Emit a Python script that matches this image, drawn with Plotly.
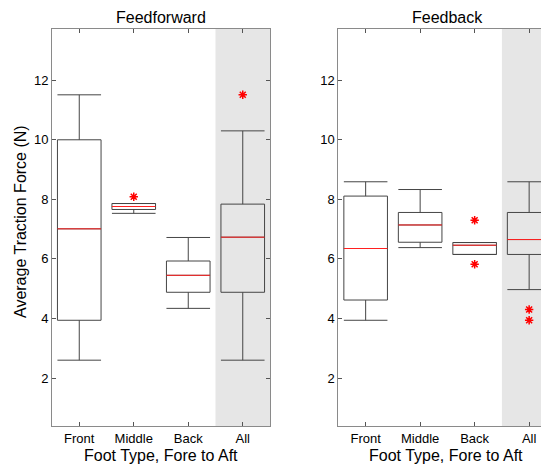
import plotly.graph_objects as go
from plotly.subplots import make_subplots

categories = ["Front", "Middle", "Back", "All"]
positions = [1, 2, 3, 4]

# Feedforward
ff_low = [2.60, 7.53, 4.34, 2.60]
ff_q1 = [3.94, 7.66, 4.88, 4.88]
ff_med = [7.01, 7.76, 5.45, 6.73]
ff_q3 = [10.00, 7.86, 5.93, 7.84]
ff_high = [11.51, 7.86, 6.72, 10.30]
ff_out_x = [2, 4]
ff_out_y = [8.09, 11.51]

# Feedback
fb_low = [3.94, 6.38, 6.15, 4.97]
fb_q1 = [4.62, 6.56, 6.15, 6.15]
fb_med = [6.35, 7.14, 6.46, 6.65]
fb_q3 = [8.11, 7.56, 6.55, 7.56]
fb_high = [8.59, 8.33, 6.55, 8.59]
fb_out_x = [3, 3, 4, 4]
fb_out_y = [7.30, 5.82, 4.30, 3.94]

titles = ["Feedforward", "Feedback"]
x_title = "Foot Type, Fore to Aft"
y_title = "Average Traction Force (N)"

BOX_W = 0.8
FONT = "Liberation Sans, Arial, sans-serif"
OFF = 8  # page body margin
W, H = 549 - OFF, 465 - OFF
ML = 52 - OFF
MT = 29 - OFF
MB = H - (426 - OFF)
MR = 0
plot_w = W - ML - MR
plot_h = H - MT - MB
px_per_unit = 218 / 4.0
left_dom = [0, 218 / plot_w]
right_start = (338.4 - 52) / plot_w
right_range_end = 0.5 + (549 - 338.4) / px_per_unit

fig = make_subplots(rows=1, cols=2)
fig.update_layout(
    xaxis=dict(domain=left_dom),
    xaxis2=dict(domain=[right_start, 1.0]),
)

panels = [
    (1, ff_low, ff_q1, ff_med, ff_q3, ff_high, ff_out_x, ff_out_y),
    (2, fb_low, fb_q1, fb_med, fb_q3, fb_high, fb_out_x, fb_out_y),
]

for col, lo, q1, med, q3, hi, ox, oy in panels:
    fig.add_trace(go.Box(
        x=positions, q1=q1, median=med, q3=q3, lowerfence=lo, upperfence=hi,
        width=BOX_W, whiskerwidth=1, fillcolor="rgba(0,0,0,0)",
        line=dict(color="#454545", width=1), boxpoints=False,
        hoverinfo="skip", showlegend=False,
    ), row=1, col=col)
    mx, my = [], []
    for p, m in zip(positions, med):
        mx += [p - BOX_W / 2, p + BOX_W / 2, None]
        my += [m, m, None]
    fig.add_trace(go.Scatter(
        x=mx, y=my, mode="lines", line=dict(color="#ff2020", width=1),
        showlegend=False, hoverinfo="skip",
    ), row=1, col=col)
    fig.add_trace(go.Scatter(
        x=ox, y=oy, mode="markers",
        marker=dict(symbol="asterisk-open", size=7, color="red",
                    line=dict(color="red", width=1.5)),
        showlegend=False, hoverinfo="skip",
    ), row=1, col=col)

# shaded "All" column
for xr, yr in [("x", "y domain"), ("x2", "y2 domain")]:
    fig.add_shape(type="rect", xref=xr, yref=yr, x0=3.5, x1=4.5, y0=0, y1=1,
                  fillcolor="#e6e6e6", line=dict(width=0), layer="below")

axis_common = dict(showgrid=False, zeroline=False, showline=True,
                   linecolor="#8a8a8a", linewidth=1, ticks="inside",
                   ticklen=4, tickcolor="#555555", automargin=False,
                   tickfont=dict(family=FONT, size=13, color="#000000"))

fig.update_xaxes(tickvals=positions, ticktext=categories, mirror="ticks",
                 **axis_common)
fig.update_xaxes(range=[0.5, 4.5], row=1, col=1)
fig.update_xaxes(range=[0.5, right_range_end], row=1, col=2)
fig.update_yaxes(range=[0.39, 13.72], tickvals=[2, 4, 6, 8, 10, 12], **axis_common)
fig.update_yaxes(mirror="ticks", row=1, col=1)
fig.update_yaxes(mirror=False, row=1, col=2)

def px_x(px):
    return (px - OFF - ML) / plot_w

def px_y(py):
    return 1 - (py - OFF - MT) / plot_h

for t, cx in zip(titles, [161, 447.7]):
    fig.add_annotation(text=t, xref="paper", yref="paper",
                       x=px_x(cx), y=px_y(8), yanchor="top", xanchor="center",
                       borderpad=0, showarrow=False,
                       font=dict(family=FONT, size=16, color="#000"))
for cx in [161, 446]:
    fig.add_annotation(text=x_title, xref="paper", yref="paper",
                       x=px_x(cx), y=px_y(456), yanchor="middle", xanchor="center",
                       showarrow=False, font=dict(family=FONT, size=16, color="#000"))
fig.add_annotation(text=y_title, xref="paper", yref="paper",
                   x=px_x(20), y=px_y(222), textangle=-90,
                   yanchor="middle", xanchor="center",
                   showarrow=False, font=dict(family=FONT, size=16, color="#000"))

fig.update_layout(
    width=W, height=H,
    margin=dict(l=ML, r=MR, t=MT, b=MB, autoexpand=False),
    paper_bgcolor="white", plot_bgcolor="white",
    font=dict(family=FONT),
)

fig.write_html("out.html")
